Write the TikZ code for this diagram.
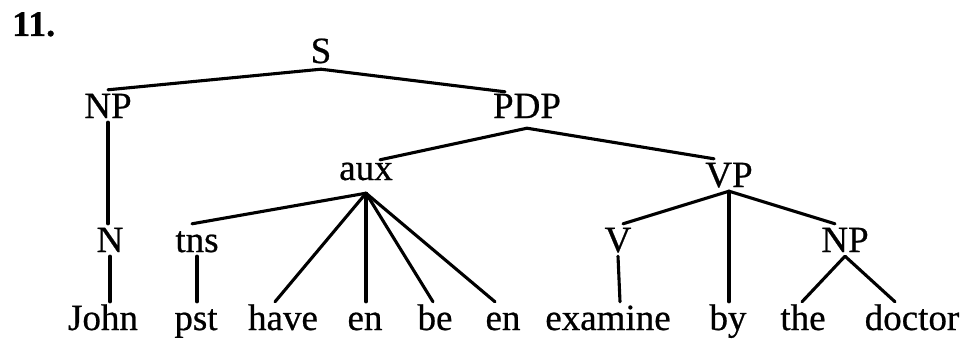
\documentclass[tikz,border=0pt]{standalone}
\usepackage{fontspec}
\setmainfont{Liberation Serif}[FakeBold=0.6]
\usetikzlibrary{calc}
\begin{document}
\begin{tikzpicture}[x=1pt,y=-1pt,
  lab/.style={anchor=base,inner xsep=0pt,inner ysep=4pt,text height=24pt,text depth=0pt,font=\fontsize{37}{40}\selectfont},
  br/.style={line width=3.1pt,line cap=round},
]
\useasboundingbox (0,0) rectangle (960,342);
\node[anchor=base west,inner sep=0pt,font=\fontsize{36}{40}\selectfont\bfseries] (num) at (12,36) {11.};
% category nodes
\node[lab,text depth=2pt] (S) at (321,63) {S};
\node[lab] (NP) at (108,118) {NP};
\node[lab,text depth=6pt] (PDP) at (527,118) {PDP};
\node[lab,text height=16pt,text depth=9pt] (aux) at (366,180) {aux};
\node[lab] (VP) at (729,187) {VP};
\node[lab] (N) at (110,252) {N};
\node[lab] (tns) at (197,252) {tns};
\node[lab] (V) at (618,252) {V};
\node[lab] (NPb) at (845,252) {NP};
% words
\node[lab] (John) at (103,330) {John};
\node[lab] (pst) at (196,330) {pst};
\node[lab] (have) at (283,330) {have};
\node[lab] (enA) at (365,330) {en};
\node[lab] (be) at (435,330) {be};
\node[lab] (enB) at (503,330) {en};
\node[lab] (examine) at (608,330) {examine};
\node[lab] (by) at (728,330) {by};
\node[lab] (the) at (803,330) {the};
\node[lab] (doctor) at (912,330) {doctor};
% branches
\draw[br] (S.south) -- (NP.north);
\draw[br] (S.south) -- ($(PDP.north)+(-22,2)$);
\draw[br] (PDP.south) -- ($(aux.north)+(14,0)$);
\draw[br] (PDP.south) -- ($(VP.north)+(-15,0)$);
\draw[br] (NP.south) -- (NP.south |- N.north);
\draw[br] (aux.south) -- ($(tns.north)+(-5,0)$);
\draw[br] (aux.south) -- ($(have.north)+(-8,0)$);
\draw[br] (aux.south) -- (aux.south |- enA.north);
\draw[br] (aux.south) -- ($(be.north)+(-2,0)$);
\draw[br] (aux.south) -- ($(enB.north)+(-8,0)$);
\draw[br] (VP.south) -- ($(V.north)+(5,0)$);
\draw[br] (VP.south) -- (VP.south |- by.north);
\draw[br] (VP.south) -- ($(NPb.north)+(-10,0)$);
\draw[br] (N.south) -- (N.south |- John.north);
\draw[br] (tns.south) -- (tns.south |- pst.north);
\draw[br] (V.south) -- ($(V.south |- examine.north)+(2,0)$);
\draw[br] (NPb.south) -- ($(the.north)+(-1,0)$);
\draw[br] (NPb.south) -- ($(doctor.north)+(-17,0)$);
\end{tikzpicture}
\end{document}
